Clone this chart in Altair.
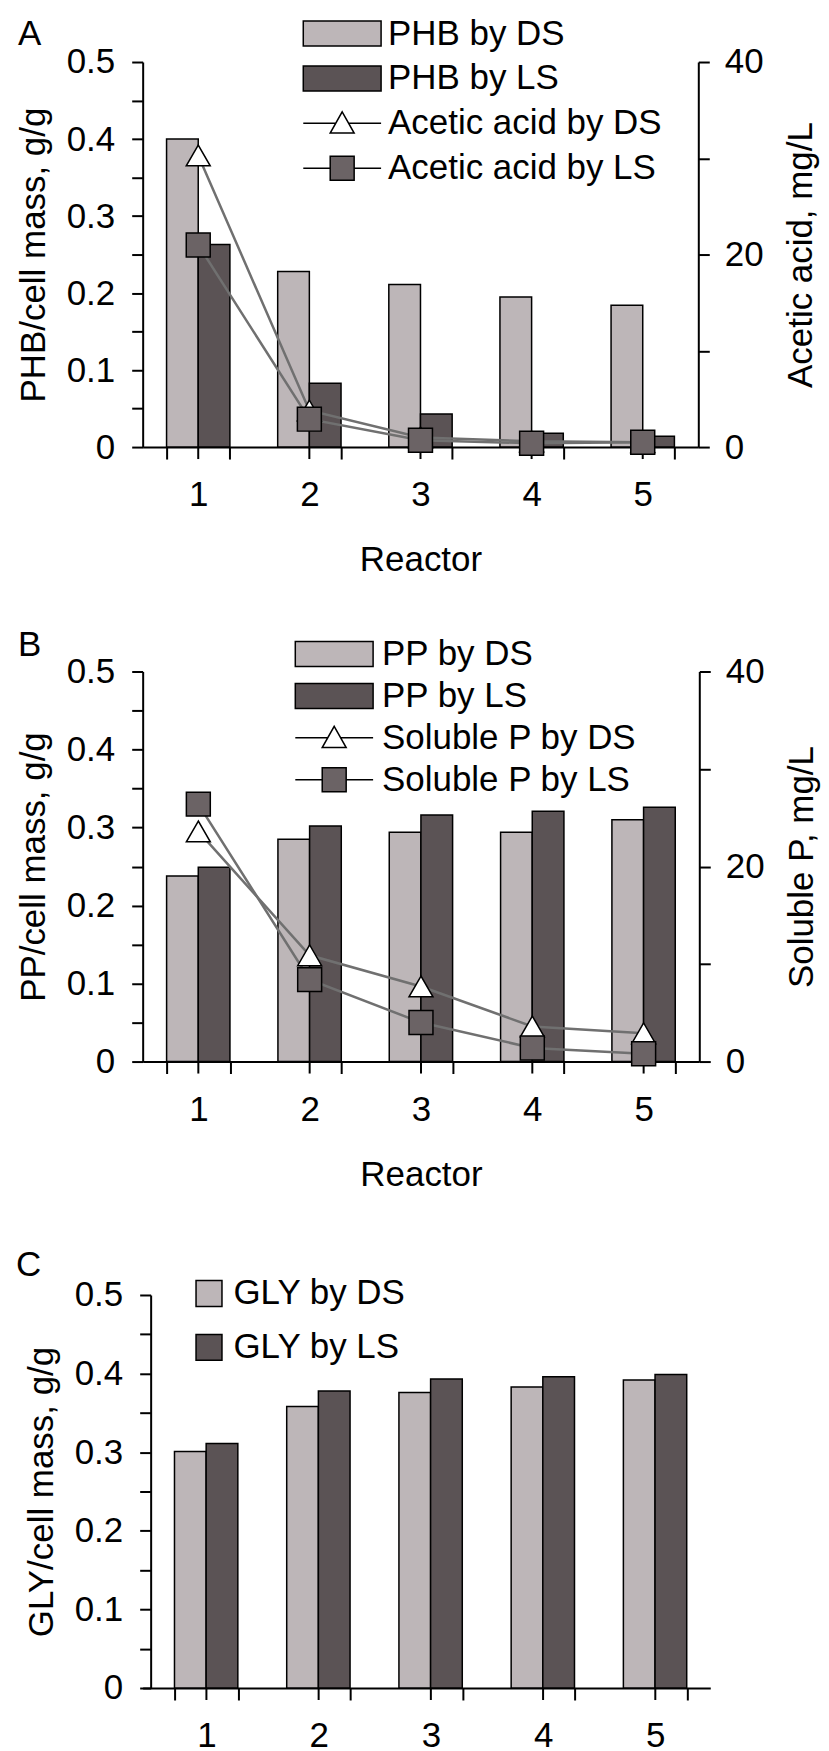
import altair as alt
import pandas as pd

FONT = "Liberation Sans"
FS = 35

reactors = [1, 2, 3, 4, 5]

# Panel A
phb_ds = [0.400, 0.228, 0.211, 0.195, 0.184]
phb_ls = [0.263, 0.083, 0.043, 0.018, 0.014]
acetic_ds = [30.3, 3.8, 1.0, 0.6, 0.5]
acetic_ls = [21.0, 2.9, 0.7, 0.4, 0.5]

# Panel B
pp_ds = [0.238, 0.285, 0.294, 0.294, 0.310]
pp_ls = [0.249, 0.302, 0.316, 0.321, 0.326]
solp_ds = [23.6, 10.9, 7.7, 3.6, 2.9]
solp_ls = [26.4, 8.4, 4.0, 1.4, 0.8]

# Panel C
gly_ds = [0.301, 0.358, 0.376, 0.383, 0.392]
gly_ls = [0.311, 0.378, 0.393, 0.396, 0.399]

LIGHT = "#bdb6b8"
DARK = "#5b5355"
SQFILL = "#6b6365"
LINE = "#707070"

RECT = "M-1,-1H5.24V1H-1Z"
LTRI = "M-1,0H1.6M2.64,0H5.24M2.12,-0.92L3.08,0.78L1.16,0.78Z"
LSQ = "M-1,0H1.16M3.08,0H5.24M1.16,-0.96H3.08V0.96H1.16Z"

LEFT_VALUES = [round(i * 0.05, 2) for i in range(11)]


def long_df(name, ds, ls):
    return pd.DataFrame({
        "reactor": reactors + reactors,
        "side": ["DS"] * len(ds) + ["LS"] * len(ls),
        "series": [f"{name} by DS"] * len(ds) + [f"{name} by LS"] * len(ls),
        "value": ds + ls,
    })


def x_enc(xtitle, pin, pout, align):
    return alt.X(
        "reactor:O",
        scale=alt.Scale(paddingInner=pin, paddingOuter=pout, align=align),
        axis=alt.Axis(title=xtitle, labelAngle=0, tickBand="extent", tickSize=12,
                      labelPadding=19, titlePadding=30),
    )


def panel(letter, bname, b_ds, b_ls, lname, l_ds, l_ls, ytitle, rtitle, xtitle,
          w, h, legx, legy, rowpad, laboff, lx, ly,
          pin=0.43, pout=0.215, align=0.5, yoff=0):
    bdf = long_df(bname, b_ds, b_ls)
    series_all = [f"{bname} by DS", f"{bname} by LS"]
    fills = [LIGHT, DARK]
    shapes = [RECT, RECT]
    if lname:
        series_all += [f"{lname} by DS", f"{lname} by LS"]
        fills += ["white", SQFILL]
        shapes += [LTRI, LSQ]
    fill_scale = alt.Scale(domain=series_all, range=fills)
    shape_scale = alt.Scale(domain=series_all, range=shapes)

    common = dict(orient="none", legendX=legx, legendY=legy, title=None,
                  labelFontSize=FS, labelFont=FONT, labelColor="black",
                  labelLimit=500, symbolStrokeColor="black", symbolStrokeWidth=1.5,
                  rowPadding=rowpad, labelOffset=laboff, padding=0)
    if lname:
        leg = alt.Legend(symbolSize=625, **common)
    else:
        leg = alt.Legend(symbolType="square", symbolSize=676, **common)

    X = x_enc(xtitle, pin, pout, align)
    left_axis = alt.Axis(
        title=ytitle, values=LEFT_VALUES,
        labelExpr="round(datum.value*100) % 10 == 0 ? format(datum.value, '~g') : ''",
        tickSize=11, labelPadding=17, titlePadding=15, labelOverlap=False, offset=yoff,
    )
    bars = alt.Chart(bdf).mark_bar(stroke="black", strokeWidth=1.5).encode(
        x=X,
        xOffset=alt.XOffset("side:N", sort=["DS", "LS"]),
        y=alt.Y("value:Q", scale=alt.Scale(domain=[0, 0.5]), axis=left_axis),
        fill=alt.Fill("series:N", scale=fill_scale, legend=leg),
    )
    ticks = alt.Chart(pd.DataFrame({"reactor": reactors})).mark_rule(
        color="black", strokeWidth=2).encode(x=X, y=alt.value(h), y2=alt.value(h + 12))
    lab = alt.Chart(pd.DataFrame({"t": [letter]})).mark_text(
        fontSize=FS, font=FONT, align="left", baseline="alphabetic", color="black"
    ).encode(text="t:N", x=alt.value(lx), y=alt.value(ly))

    left_group = alt.layer(bars, ticks, lab)
    if not lname:
        return left_group.properties(width=w, height=h)

    ldf = long_df(lname, l_ds, l_ls)
    right_axis = alt.Axis(
        title=rtitle, orient="right", values=[0, 10, 20, 30, 40],
        labelExpr="datum.value % 20 == 0 ? datum.label : ''",
        tickSize=11, labelPadding=15, titlePadding=21, titleAngle=270,
        titleBaseline="top", labelOverlap=False,
    )
    Y2 = alt.Y("value:Q", scale=alt.Scale(domain=[0, 40]), axis=right_axis)
    line = alt.Chart(ldf).mark_line(color=LINE, strokeWidth=2.5).encode(
        x=X, y=Y2, detail="series:N")
    tri = alt.Chart(ldf).transform_filter(alt.datum.side == "DS").mark_point(
        shape="triangle-up", filled=True, size=576, stroke="black", strokeWidth=1.5, opacity=1
    ).encode(x=X, y=Y2, fill=alt.Fill("series:N", scale=fill_scale, legend=leg))
    sq = alt.Chart(ldf).transform_filter(alt.datum.side == "LS").mark_point(
        shape="square", filled=True, size=576, stroke="black", strokeWidth=1.5, opacity=1
    ).encode(x=X, y=Y2, fill=alt.Fill("series:N", scale=fill_scale, legend=leg))
    legend_layer = alt.Chart(ldf).transform_filter("false").mark_point(
        filled=True, stroke="black", strokeWidth=1.5, opacity=1
    ).encode(
        shape=alt.Shape("series:N", scale=shape_scale, legend=leg),
        fill=alt.Fill("series:N", scale=fill_scale, legend=leg),
    )
    right_group = alt.layer(line, tri, sq, legend_layer)
    return alt.layer(left_group, right_group).resolve_scale(y="independent").properties(
        width=w, height=h)


A = panel("A", "PHB", phb_ds, phb_ls, "Acetic acid", acetic_ds, acetic_ls,
          "PHB/cell mass, g/g", "Acetic acid, mg/L", "Reactor",
          557, 386, 156, -46, 9, 55, -125, -17)
B = panel("B", "PP", pp_ds, pp_ls, "Soluble P", solp_ds, solp_ls,
          "PP/cell mass, g/g", "Soluble P, mg/L", "Reactor",
          558, 391, 148, -35, 6, 57, -125, -16)
C = panel("C", "GLY", gly_ds, gly_ls, None, None, None,
          "GLY/cell mass, g/g", None, None,
          569, 394, 49, -19, 18, 7, -127, -19,
          pin=0.431, pout=0.2444, align=0.58, yoff=-8)

top = alt.vconcat(A, B, spacing=48).resolve_scale(
    fill="independent", shape="independent"
).resolve_legend(fill="independent", shape="independent")

chart = alt.vconcat(top, C, spacing=54).resolve_scale(
    fill="independent", shape="independent"
).resolve_legend(fill="independent", shape="independent").configure(
    font=FONT, padding={"left": 7, "top": 5, "right": 0, "bottom": 0}
).configure_view(stroke="transparent").configure_axis(
    grid=False, domainColor="black", tickColor="black", labelColor="black",
    titleColor="black", titleFontWeight="normal", labelFontSize=FS, titleFontSize=FS,
    labelFont=FONT, titleFont=FONT, domainWidth=2, tickWidth=2,
)

chart.save("out.html", embed_options={"renderer": "svg", "actions": False})
